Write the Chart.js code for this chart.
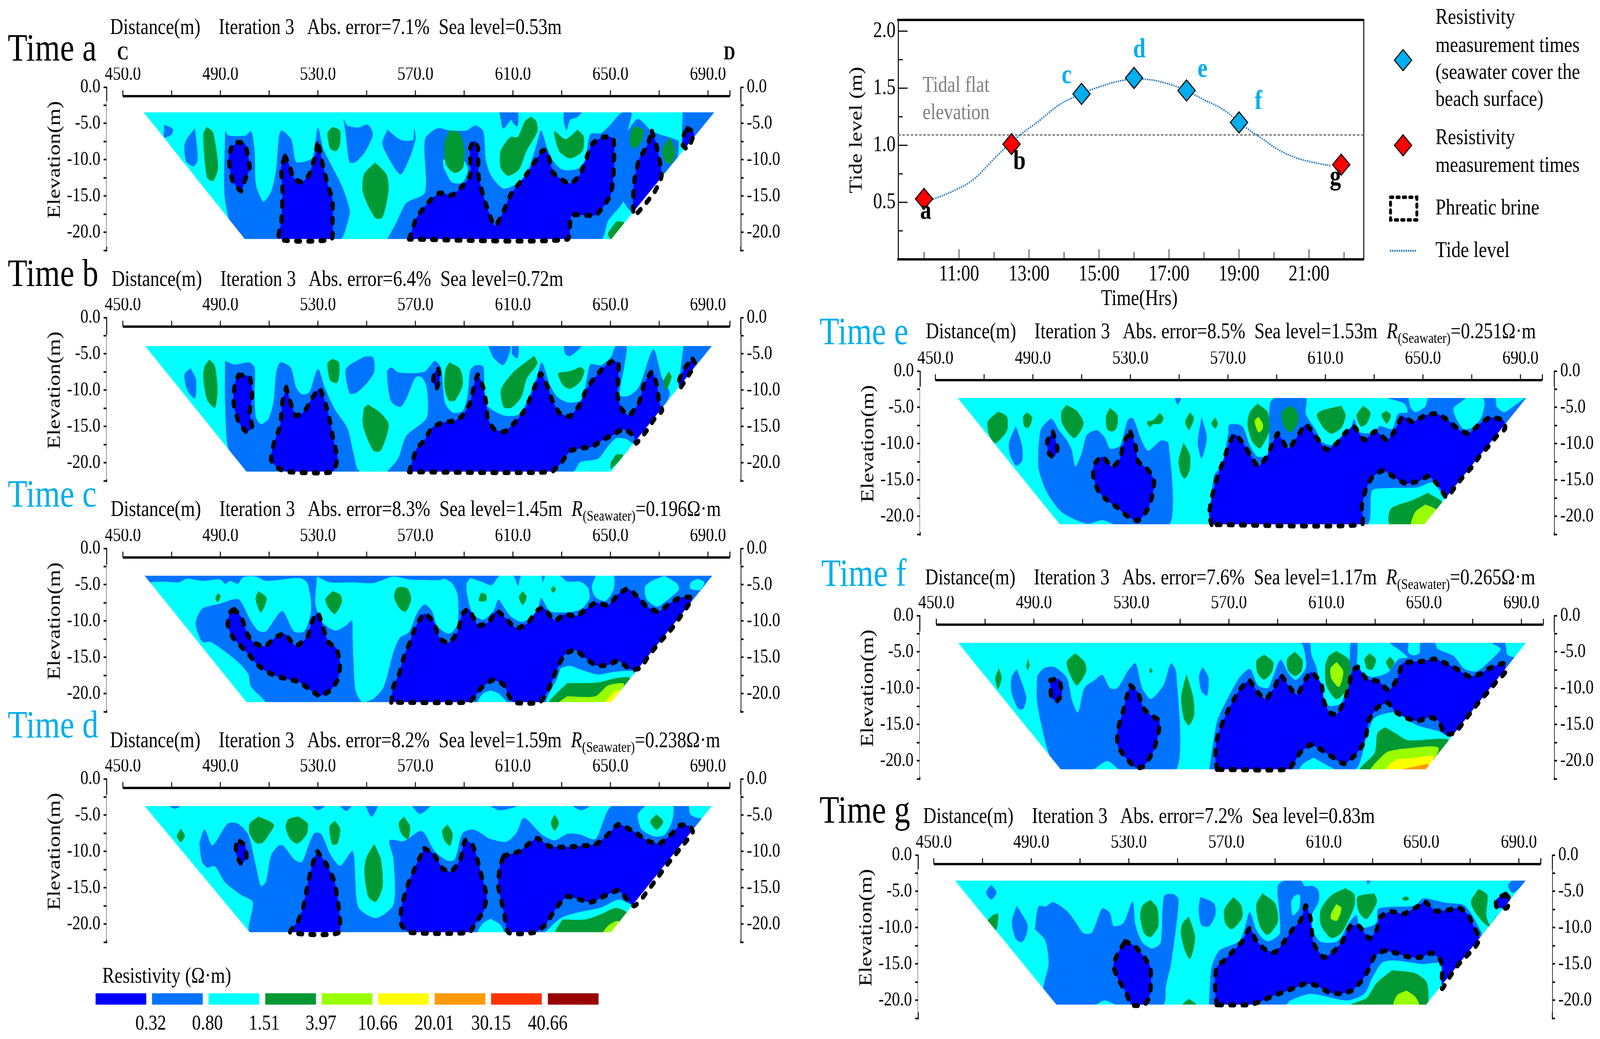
<!DOCTYPE html>
<html>
<head>
<meta charset="utf-8">
<title>Resistivity sections</title>
<script src="https://cdn.jsdelivr.net/npm/chart.js@4"></script>
<style>
html, body { margin: 0; padding: 0; background: #fff; overflow: hidden; }
#page { position: relative; width: 4988px; height: 2660px; overflow: hidden; font-family: "Liberation Serif", serif; color: #000; transform-origin: 0 0; }
#page canvas { position: absolute; }
.t { position: absolute; line-height: 1; white-space: pre; }
.t sub { font-size: 38px; vertical-align: -12px; line-height: 0; }
</style>
</head>
<body>
<div id="page"></div>
<script>
// axis values
const distanceLabels = [450, 490, 530, 570, 610, 650, 690];
const distanceTicks = [450, 470, 490, 510, 530, 550, 570, 590, 610, 630, 650, 670, 690, 699];
const elevationTicks = [0, -2.5, -5, -7.5, -10, -12.5, -15, -17.5, -20, -22.5];
const elevationLabels = [0, -5, -10, -15, -20];

// resistivity legend
const resistivityColors = ['#0000ff', '#0073ff', '#00ffff', '#009933', '#99ff00', '#ffff00', '#ff9900', '#ff3300', '#990000'];
const resistivityValues = ['0.32', '0.80', '1.51', '3.97', '10.66', '20.01', '30.15', '40.66'];

// tide curve
const tideHours = [10.2, 10.84, 11.41, 12.06, 12.7, 13.27, 13.84, 14.34, 14.99, 15.7, 16.27, 16.84, 17.41, 17.99, 18.56, 19.13, 19.7, 20.13, 20.63, 21.13, 21.63];
const tideLevels = [0.52, 0.6, 0.7, 0.9, 1.08, 1.21, 1.35, 1.43, 1.51, 1.57, 1.58, 1.55, 1.49, 1.4, 1.31, 1.17, 1.05, 0.96, 0.89, 0.85, 0.82];
const measureHours = [10, 12.5, 14.5, 16, 17.5, 19, 21.92];
const measureLevels = [0.53, 1.01, 1.45, 1.59, 1.48, 1.2, 0.83];
const measureFlooded = [false, false, true, true, true, true, false];
const tidalFlatLevel = 1.09;
const tideHourTicks = [10, 11, 12, 13, 14, 15, 16, 17, 18, 19, 20, 21, 22];
const tideHourLabels = [11, 13, 15, 17, 19, 21];
const tideLevelLabels = [0.5, 1, 1.5, 2];
const tideLevelMinor = [0.25, 0.75, 1.25, 1.75];

// contour regions, flat lists of distance(m), elevation(m)
// Time a
const trapA = [458.4,-3.45, 692.7,-3.45, 650.4,-20.95, 500,-20.95];
const midA = [
  [467,-5.2, 470.5,-5.8, 470,-6.5, 467,-6.9],
  [479.5,-5.7, 480.5,-8.8, 480.5,-10.2, 479,-10.9, 476,-10.2, 475.5,-7.7],
  [492,-6.1, 493.4,-6.7, 500.3,-6.7, 502.6,-6.1, 504,-8.8, 504.5,-13.4, 507.6,-15.8, 511,-14.3, 513,-11.1, 514,-7, 515,-6, 519,-7.2, 521,-10.3, 525.5,-10.2, 528,-9.7, 530,-5.6, 532,-8.4, 536,-11.1, 540,-13.8, 543,-17, 542,-18.8, 539,-21, 498,-21, 492,-15.6],
  [540.5,-4.4, 542,-5.3, 546.5,-5.6, 550.5,-5.2, 552.5,-6.5, 549.5,-8.8, 545.5,-10.3, 543,-10.3, 541.5,-6.5],
  [558.5,-5.9, 564,-7.3, 569,-7.3, 569.5,-5.8, 570,-7.1, 568,-9.4, 564,-12, 560.5,-10.6, 556.5,-7.8],
  [558.4,-21, 562,-18.8, 566.3,-16, 574,-14.5, 574,-7.2, 579,-5.7, 584,-6, 591,-6, 594.6,-5.3, 597.8,-6.1, 598.8,-10, 601,-12.2, 606,-14, 611.4,-13.4, 615.6,-12, 619.8,-7.9, 621.5,-6, 624,-8.4, 626.5,-10.2, 630.3,-11.4, 636.5,-11.3, 639.7,-10, 641.8,-6.5, 646,-6.4, 650,-5.2, 654.4,-3.6, 658.6,-3.6, 657,-6.1, 656.5,-11.1, 655.4,-15.6, 649,-18.4, 646,-21],
  [657,-6.1, 661.3,-4.4, 667,-6.1, 676.4,-7.2, 678,-7.5, 676.8,-10.6, 671,-12.2, 661.7,-17.7, 655.4,-15.6],
  [604.5,-3.45, 608.9,-3.45, 609.3,-4.3, 606,-5.7, 605,-4.3],
  [609.3,-3.45, 612,-3.45, 611.8,-5.4, 609.3,-4.5],
  [630.9,-3.45, 638,-3.45, 636.5,-4.1, 633.4,-4.5, 632,-5.9, 630.9,-4.7],
  [679.7,-3.45, 692.7,-3.45, 681.6,-8.6, 679.5,-8.4]
];
const holeA = [[581.6,-11.1, 585,-13.1, 589.4,-13.1, 591.5,-11.3, 589.4,-10, 581.6,-10]];
const greenA = [
  [484.5,-5.5, 487,-6.3, 489,-11.1, 487,-12.9, 484.5,-12.4, 483,-6.5],
  [536,-5.5, 539,-6, 539,-7.9, 537.5,-8.8, 535,-8.4, 534,-6.3],
  [553.5,-10.4, 558,-12, 559,-14, 556.5,-17.9, 553.5,-18, 548.5,-14.5, 549,-12],
  [584,-6, 588,-6.3, 590,-8.4, 589.5,-11.1, 586,-11.8, 582.5,-10.6, 582,-7.7],
  [617.5,-4.1, 619.5,-4.7, 620,-6.1, 615.5,-8.8, 612.5,-11.3, 608,-12.2, 605,-11.1, 605,-8.8, 609,-6.9, 612,-6.9, 615,-4.7],
  [636.5,-5.9, 639,-6.8, 638.5,-8.8, 633.5,-9.8, 629,-8.8, 627,-6.1, 631.5,-7.2],
  [660,-5.4, 663.5,-5.9, 663,-7.2, 660,-8.5, 658,-7.7, 658.5,-6.1],
  [674.5,-6.9, 676.5,-8.8, 675,-10.6, 672,-10, 671.5,-8.4],
  [652.5,-18.5, 655.5,-18.7, 650.5,-21, 649,-20.2]
];
const brineA = [
  [497,-7.6, 500,-7.8, 502,-11.1, 500,-12.9, 498.5,-14.3, 495,-12.9, 493.5,-10, 494.5,-8.4],
  [516.5,-9.5, 518.5,-10.9, 520,-12.5, 523.5,-13.1, 526.5,-12, 529,-9.3, 530,-7.4, 531.5,-10, 534,-13.4, 536,-15.6, 536,-18.6, 535.5,-20.95, 514,-20.95, 515,-18.6, 515.5,-14.5, 515,-11.1],
  [567.4,-20.95, 570.5,-18, 575.8,-15.7, 580,-14.6, 585,-14.9, 589.4,-13.6, 592.5,-12.2, 592.5,-8.4, 594.2,-7.4, 595.7,-8.4, 596,-12.5, 598.8,-16, 602.6,-19.1, 606,-17.2, 609.3,-14.7, 615.6,-12, 622,-8.8, 624,-8.8, 626.5,-11.8, 633.4,-13.3, 637.6,-12, 642.4,-7.9, 647,-6.9, 651.2,-7.1, 651.2,-12.2, 650,-14.9, 644,-17.6, 634,-17.7, 632.4,-20.95],
  [667,-6.1, 668.8,-7.9, 671,-12.2, 668,-14.5, 663,-16.6, 659.6,-17.7, 659.6,-13.4, 661.7,-10, 665,-8.1],
  [681.6,-5.7, 684.3,-6.3, 681.6,-8.5, 679.5,-7.9, 680.2,-6.5]
];

// Time b
const trapB = [459,-3.9, 691.7,-3.9, 650.2,-21.25, 500.7,-21.25];
const midB = [
  [477.7,-7, 480,-8.6, 479.5,-11.1, 476.5,-10, 475.3,-7.9],
  [492,-6, 495.7,-6.5, 501.8,-6.2, 504,-6.9, 504,-10.6, 504.5,-13.7, 506.6,-14.7, 509.7,-14, 511.8,-11.7, 513,-7.5, 514.6,-6.2, 518.8,-6.9, 521,-9.6, 523.5,-10.6, 526.5,-10.3, 530,-7.1, 532.7,-9.6, 537,-12.7, 542,-15.2, 544,-17.9, 546,-20.8, 547,-21.25, 500.7,-21.25, 493.4,-18.1, 492,-11.7],
  [549,-5.4, 552.6,-5.5, 553,-7.5, 549.6,-9.2, 545.4,-10.4, 543,-10.4, 541.6,-7.1],
  [558.4,-21.25, 563,-19.4, 566.3,-16.3, 574.7,-13.8, 574.7,-9.6, 572.6,-8.2, 570,-8.2, 566.3,-11.1, 563.8,-12.3, 560,-11.5, 558.4,-7.5, 560,-6.9, 563.2,-7.6, 573.7,-7.5, 577.9,-6, 580.4,-6.9, 582,-11.7, 585.2,-13.1, 589.4,-12.9, 591.5,-10.7, 592.5,-7.3, 594.6,-6.6, 597.8,-6.8, 598.8,-11.9, 606.2,-13.5, 612.4,-13.4, 615.6,-11.7, 619.8,-8.2, 621.9,-6.2, 625,-9.2, 628,-10.9, 632.4,-11.7, 637.6,-11.5, 639.7,-9.6, 641.8,-6.5, 646,-6.6, 650.2,-5.5, 652.3,-3.9, 656.5,-3.9, 655.4,-7.1, 653.7,-10.7, 657.5,-10.8, 661.7,-9.6, 667.6,-4.4, 671,-8.2, 674.3,-10.4, 672.2,-12.1, 665,-15.8, 659.6,-17.3, 656.5,-16.7, 652.3,-16.6, 649,-17.7, 645,-19.4, 637.6,-19.9, 634.5,-21.25],
  [600,-3.9, 608.9,-3.9, 606.2,-6.5, 602,-5.5],
  [609.7,-3.9, 612.2,-3.9, 611.8,-5.6, 609.7,-5],
  [630.9,-3.9, 638,-3.9, 636.9,-4.4, 633.4,-5.3, 631.5,-5],
  [680,-3.9, 691.7,-3.9, 679.5,-9.2, 678.4,-9]
];
const greenB = [
  [485.6,-5.8, 487.7,-6.7, 488.8,-10, 487.7,-12.4, 484.6,-11.3, 483,-8.2, 483.6,-6.7],
  [536,-5.7, 538.6,-6.2, 538.6,-8.2, 537.7,-9, 535,-8.6, 534,-6.3],
  [550.6,-12, 555.8,-13.2, 559,-14.8, 555.8,-18.3, 552.7,-18.3, 548.5,-14.8, 549,-12.5],
  [584,-6.2, 588.3,-7.1, 589.4,-9.2, 586.2,-11.4, 583.7,-11.4, 582,-9.6, 582.4,-7.1],
  [618.7,-5.3, 620,-6.3, 615.6,-8.4, 613.5,-10.9, 609.3,-12.4, 606.2,-12.3, 605,-10.2, 606.2,-9.2, 610.3,-7.5],
  [637.6,-6.8, 639.3,-7.3, 637.6,-8.8, 633.4,-9.8, 630.3,-9.2, 628.6,-7.7, 632,-7.5, 634.5,-7.3],
  [673.9,-7.4, 675,-8.2, 672.8,-10, 671.8,-8.8],
  [652.5,-18.8, 655.2,-19, 650.2,-20.8, 650.2,-20]
];
const brineB = [
  [497.5,-7.9, 502,-8.2, 503,-10.7, 502,-13.1, 503,-15.2, 500.6,-15.7, 497.5,-14.4, 495.4,-11.7, 496,-9],
  [517,-9.6, 518.8,-11.7, 521,-13.5, 524.5,-12.9, 527.6,-11.1, 530.7,-9.8, 533.5,-12.3, 535,-14.4, 536.4,-16.9, 538,-19.4, 536,-21.25, 518,-21.25, 514,-20.8, 510.8,-19.6, 511.8,-17.5, 514.6,-14.8, 515.4,-11.7],
  [579.4,-7.1, 580,-8.2, 578.6,-9.8, 577.3,-8.6, 578,-7.5],
  [567.4,-21.25, 570.5,-18.1, 573.7,-16.9, 576.8,-15.2, 581,-14.5, 586.2,-14.2, 589.4,-13.5, 592.5,-11.7, 594.2,-9.2, 595.6,-7.9, 597.8,-9.6, 599,-11.7, 599.7,-13.9, 602.4,-15.4, 606.7,-15.7, 611.4,-14.2, 614.5,-12.9, 616.6,-11.5, 619.3,-9.2, 621.4,-7.7, 624,-9.4, 626.5,-11.7, 629.3,-13.2, 633.4,-13.6, 637.6,-11.9, 639.7,-10.2, 642.8,-8.6, 646.6,-7.1, 650.8,-6, 653.3,-6.3, 652.9,-10.7, 654.4,-12.5, 657.5,-13.5, 661.7,-11.7, 663.8,-9.2, 667,-7.5, 669,-9.2, 670,-11.7, 671.2,-12.8, 668.4,-13.8, 664.8,-15.6, 660.6,-17.3, 659.6,-16.3, 655.4,-15.4, 650.8,-16.2, 646.6,-16.9, 642.4,-17.8, 637.6,-18, 633.4,-18.4, 629.8,-20, 625.6,-21.25],
  [683.7,-5.7, 684.7,-6.4, 681.6,-8.2, 678.5,-9.7, 678,-8.8, 680.6,-6.9]
];

// Time c
const trapC = [458.8,-3.74, 691.9,-3.74, 650.4,-21.2, 500.7,-21.2];
const holeC = [
  [460.5,-4.7, 466.8,-4.6, 473,-4.7, 476.2,-4.2, 482.5,-4.5, 489.8,-4.3, 492,-4.9, 494,-4.5, 497.2,-4.9, 499.3,-4, 504.5,-3.9, 508.7,-4.5, 522.3,-4.1, 525.5,-4.7, 527,-7, 527,-9, 524.4,-11.4, 520.2,-11.4, 515.3,-8.6, 508.7,-11.4, 505.5,-11.3, 502.4,-9.9, 497.5,-7, 489.8,-7.6, 482.5,-8.3, 479.8,-10.3, 482.5,-12.9, 486,-12.9, 496,-15.3, 501.4,-17.3, 502.4,-19, 508.3,-21.2, 500.4,-21.2, 455,-6],
  [529.7,-3.9, 534.9,-4.7, 544.3,-4.7, 552.7,-4.8, 561,-3.9, 567.4,-4.3, 580,-4.4, 582,-4.2, 585.2,-4.9, 587.3,-6.5, 587.3,-10.3, 585.2,-11.5, 583.1,-11.7, 579,-10.7, 576.8,-8.6, 573.7,-7.7, 570.5,-9, 567.4,-11.5, 563.6,-12.3, 561,-14.2, 556.9,-19.1, 552.7,-20.7, 548,-21.1, 545.4,-19.4, 544.3,-12.2, 544,-9.9, 541.2,-10.7, 537,-11.3, 531.7,-10.1, 529,-7.6],
  [592.5,-4.1, 597.8,-4.7, 601.3,-5.1, 604.7,-3.74, 610,-3.74, 612.1,-5.2, 613.5,-3.74, 621.5,-3.74, 622.3,-4.7, 623.5,-3.74, 629.2,-3.8, 632.3,-4.6, 637.6,-4.6, 640.7,-5.4, 641.4,-6.8, 638.6,-8.2, 634.5,-8.7, 629.2,-8.8, 625,-8.6, 621.5,-6.8, 619.8,-8.8, 613.9,-10.1, 609.3,-9.4, 606.2,-8, 604,-7, 602,-8.6, 597.8,-9.8, 593.6,-9, 591.5,-6.8, 591,-4.9],
  [644.1,-3.74, 651.2,-3.74, 651.2,-5.7, 648,-7.2, 643.9,-6.7, 642.4,-5.3],
  [672.2,-3.8, 677.4,-4.9, 678,-5.7, 672.2,-7.4, 669,-8, 664.9,-7, 664.2,-5.3, 667,-4.5],
  [685.8,-4.2, 688.5,-4.7, 686.8,-5.7, 682.7,-5.5, 683,-4.7],
  [629.6,-16.5, 633.4,-16.2, 637.6,-16.7, 644.9,-17.4, 652.3,-17, 659.6,-17.1, 650.2,-21.2, 624,-21.2, 628.2,-17.9],
  [600.9,-19.6, 604,-20, 607.2,-21.2, 595.7,-21.2, 597.8,-20]
];
const greenC = [
  [489,-6.2, 490,-6.5, 489,-7.4, 488,-6.9],
  [505.5,-5.9, 508.7,-6.7, 508.7,-7.4, 506.6,-8.8, 504.5,-7],
  [536,-5.9, 539.2,-6.4, 539.8,-7.4, 537,-9, 534.4,-8.2, 533.1,-7],
  [564.4,-5.3, 566.9,-5.6, 568.2,-7, 566,-8.7, 563.4,-8.2, 561.3,-6.7, 562.3,-5.5],
  [597,-6.1, 599,-6.4, 599,-7.2, 596,-7.2],
  [614,-5.9, 615.6,-6.7, 614,-7.8, 612.5,-6.7],
  [626.7,-5.2, 627.6,-5.6, 626.5,-6.1, 625.7,-5.6],
  [632.3,-18.6, 644.9,-18.5, 652.3,-17.9, 658,-17.9, 650.2,-21.2, 625,-21.2, 628.2,-19.9]
];
const limeC = [[632.3,-20.4, 643.8,-20.4, 649,-18.9, 655.6,-18.7, 650.2,-21.2, 629.2,-21.2]];
const yellowC = [[649,-20.7, 652.3,-19.6, 653.7,-19.6, 650.2,-21.2, 648,-21.2]];
const brineC = [
  [495.7,-8.4, 498.6,-9.5, 500.9,-11.7, 503.4,-12.9, 508,-13.5, 512.9,-12.2, 516.4,-11.8, 520.8,-13.4, 525.5,-12.3, 527.6,-10.1, 530,-8.9, 532.2,-11, 534.3,-12.9, 537.6,-13.8, 539.1,-15.9, 538,-18.2, 534.9,-19.6, 530.7,-20.3, 526.5,-19.4, 522.3,-18.4, 515,-17.8, 509.7,-17.1, 505.5,-16.1, 502.4,-14.9, 498.2,-13.4, 495,-12.2, 493,-10.5, 494,-8.8],
  [560.1,-21.2, 561,-19, 563.2,-17.4, 565.3,-14.9, 567.4,-13.2, 569.5,-11.3, 571.6,-9.9, 573.7,-9, 577.4,-10.1, 580,-12.4, 583.7,-13, 587.3,-11.5, 589.4,-9, 591.9,-8.4, 595.7,-10.6, 599.9,-10.2, 603.4,-8.6, 607.2,-9.7, 611.4,-11, 616,-10.3, 619.8,-8.6, 622.5,-8.2, 627.1,-9.9, 631.3,-9.1, 636.1,-9.3, 640.7,-8.2, 643.9,-7.5, 649.1,-7.8, 653.3,-6.3, 657.1,-5.6, 661.7,-6.8, 664.8,-8, 669.7,-8.7, 674.3,-7.6, 678.5,-6.8, 683.5,-6.8, 681.6,-8, 678.5,-9.5, 675.3,-11, 672.2,-12.2, 669,-13.4, 665.5,-14.9, 662.1,-16.5, 657.9,-16.6, 653.3,-15.5, 648.5,-16.1, 643.9,-16.1, 639.7,-15.1, 635.5,-14, 631.3,-14.6, 628.2,-16.5, 626.1,-18.2, 624,-19.8, 620.9,-21.2, 610.3,-21.2, 608.2,-20.2, 606.2,-18.8, 602,-18.1, 597.1,-19.2, 593.6,-20.7, 591.5,-21.2]
];

// Time d
const trapD = [458.8,-3.72, 691.7,-3.72, 650.2,-21.15, 502,-21.15];
const midD = [
  [468.9,-3.72, 473.5,-3.72, 471.4,-4.1],
  [527.6,-3.72, 532.8,-3.72, 530,-4.3],
  [539,-3.72, 543.7,-3.72, 541.6,-4.4],
  [549.6,-3.72, 554.4,-3.72, 552,-5.2],
  [568.6,-3.72, 576,-3.72, 571.8,-4.8],
  [600.5,-3.72, 611.8,-3.72, 604.7,-4.3],
  [634.3,-3.72, 641.5,-3.72, 638,-4.3],
  [481.4,-8.9, 483.5,-7, 486.7,-9.2, 493,-6.2, 497.2,-6.2, 501.4,-7.7, 504.5,-12, 506.6,-14.8, 508.7,-14.2, 510.8,-10.6, 513.9,-9.2, 516,-9.3, 520.2,-11.1, 523.4,-11.5, 526.5,-8.9, 528.6,-7.5, 531.3,-7.6, 534.9,-10.3, 539.1,-12, 544.3,-10, 546.4,-17.6, 553.8,-19.2, 561.1,-17.3, 561.1,-11.1, 559.4,-8.5, 565.3,-8.6, 572.6,-7.2, 577.9,-10, 583.1,-11.3, 586.2,-11.1, 589.4,-7.5, 593.6,-7, 597.8,-7.7, 599.9,-8.2, 607.2,-8.7, 611.4,-7.5, 614.5,-5.4, 621.9,-7.7, 627.1,-8.5, 632.3,-7.6, 637.6,-7.7, 643.9,-8.3, 650.8,-3.72, 691.7,-3.72, 659.8,-17.2, 653.5,-16.6, 646.1,-17.7, 637.7,-18.3, 630.4,-19, 626.2,-20.1, 622.5,-21.15, 502.4,-21.15, 503.4,-17, 498.2,-15.9, 491.9,-14.2, 487.7,-12, 484.6,-12.2, 482.5,-11.4]
];
const holeD = [
  [664.4,-3.72, 675.5,-3.72, 675.3,-5.8, 672.2,-7.7, 668,-7.9, 662.7,-6.9, 661.3,-4.9],
  [682.3,-3.72, 691.1,-3.72, 687.9,-5.4, 682.8,-4.9],
  [600.9,-19.3, 604.7,-20.1, 606.2,-21.15, 595.7,-21.15, 597.8,-19.9]
];
const greenD = [
  [473.7,-6.9, 475.4,-7.8, 473.7,-8.7, 472.2,-7.9],
  [505.6,-5.2, 511.9,-6.3, 509.8,-7.7, 507.2,-8.8, 504.5,-8.8, 502,-7.5, 502,-6.2],
  [522,-5.2, 525.8,-6.2, 525.2,-7.7, 521.6,-8.9, 518.5,-8.2, 516.8,-6.6, 517.9,-5.6],
  [537,-5.8, 539.1,-6.9, 538,-8.9, 535.9,-9, 534.9,-7.5, 534.9,-6.5],
  [553.1,-9, 555.8,-11.1, 556.5,-14.8, 553.8,-16.9, 550.7,-16.2, 549.1,-12.8, 550,-10.8],
  [565.3,-5.2, 567.8,-6.6, 566.9,-8.3, 564.2,-7.5, 563.2,-6.1],
  [583.1,-6.3, 585.2,-7.5, 584.2,-9.2, 582,-8.5, 581,-7.2],
  [627.1,-4.9, 628.8,-6.1, 627.1,-7.1, 625.6,-6.1],
  [668.9,-4.9, 671.6,-5.9, 668.9,-7, 666.4,-5.9],
  [630.3,-19.4, 639.7,-19.4, 646,-18.7, 652.3,-17.8, 657,-18.6, 650.2,-21.15, 627.6,-21.15]
];
const limeD = [[652.3,-19.6, 653.7,-19.7, 650.2,-21.15, 647.1,-21.15, 649.2,-20.2]];
const brineD = [
  [498,-8.6, 500.1,-9.2, 500.7,-10.8, 498.6,-11.7, 496.5,-10.3, 496.5,-8.9],
  [529.8,-10, 533.4,-11.7, 536.5,-13.9, 538.2,-16.8, 538.6,-21.15, 518.7,-21.15, 521.8,-19.6, 523.9,-17.8, 526,-14.2, 528.1,-11.4],
  [573.7,-9.6, 577.4,-10.3, 581,-12.3, 584.6,-12.8, 588.4,-11.1, 590.4,-8.5, 593.6,-9.2, 596.7,-12.8, 599.2,-16.2, 597.8,-18.3, 594.6,-19.9, 592,-21.15, 567.8,-21.15, 564.2,-20.1, 564.2,-17.8, 567,-14.5, 571,-11.4],
  [606.2,-10.6, 612.5,-10, 619.8,-8.2, 625,-9.3, 630.3,-9.4, 636.6,-9.3, 643.9,-9, 648,-8, 653.3,-6.3, 660.7,-7.5, 664.9,-8.5, 670.2,-8.9, 675.4,-7.5, 678.5,-6.4, 682.3,-6.5, 683.8,-7.3, 679.6,-9.2, 673.3,-11.8, 666,-15.1, 659.7,-17.5, 653.3,-15.4, 646.6,-16.3, 641.8,-17, 632.4,-16.2, 628.2,-17.6, 623,-20.2, 618.7,-21.15, 608.2,-21.15, 606.2,-18.2, 604,-14.8, 604.7,-12]
];

// Time e
const trapE = [459,-3.68, 692.5,-3.68, 650.6,-21.14, 501,-21.14];
const midE = [
  [483,-7.6, 485.5,-10.3, 485.5,-12.4, 483,-13, 480.5,-11.3, 480.3,-9.8],
  [492.4,-10.3, 493.4,-8, 497.6,-6.6, 500.7,-8.2, 503.8,-9.5, 505.9,-10.9, 507.4,-13.2, 510.1,-11.3, 512.2,-8.8, 516.4,-8.2, 519.5,-9.2, 521.6,-10.7, 525.8,-10.3, 528.9,-6.8, 531,-6.5, 534.1,-9.2, 537.2,-11, 542.5,-9.6, 545.6,-10, 546,-21.14, 523.7,-21.14, 518.5,-20.5, 512.2,-21, 501.8,-19.4, 495.5,-16.5, 492.4,-13.4],
  [548.3,-3.68, 550.8,-3.68, 549.3,-4.6],
  [559.2,-6.4, 561.3,-9.2, 559.2,-12, 557.7,-9.9],
  [562.3,-21.14, 564.4,-14.4, 567.5,-13, 570.2,-8.6, 570.6,-7.4, 575.8,-7.6, 579,-10.3, 582.1,-11.8, 586.3,-11.5, 587.3,-4.5, 589.4,-3.68, 601.9,-3.68, 601.9,-5.9, 606.1,-8.2, 608.2,-9.7, 612.4,-10.2, 616.5,-9, 620.7,-7.6, 621.8,-6.6, 623.8,-8.4, 630.1,-8.5, 632.2,-7.6, 637.4,-8, 639.9,-5.9, 643.7,-5.7, 642.6,-4.5, 635.7,-3.68, 643.7,-3.68, 644.7,-4.9, 646.8,-5.7, 651,-4.9, 652.4,-3.68, 667.3,-3.68, 662.5,-5.1, 663.5,-6.5, 666.6,-8, 670.4,-7.8, 673.9,-6.5, 675.4,-4.5, 675,-3.68, 679.6,-3.68, 680.2,-4.9, 683.3,-5.7, 687.1,-4.9, 692.5,-3.68, 679.2,-9.7, 664.5,-15.5, 659.3,-17.3, 654,-15.3, 647.8,-16, 635.3,-16.1, 629,-16.5, 627,-21.14]
];
const greenE = [
  [475.7,-5.6, 479.3,-6.3, 479.3,-8.2, 474.6,-9.9, 472.1,-8.8, 471.5,-7],
  [487.6,-5.7, 489.7,-6.4, 488.2,-7.8, 486.5,-7.6, 486,-6.3],
  [503.8,-4.7, 508,-5.5, 510.7,-7, 510,-8, 507,-9.2, 503.8,-8.2, 501.8,-7, 501.8,-5.6],
  [521.6,-5.1, 524.7,-6.1, 524.3,-7.8, 522.6,-8.3, 520.5,-8, 520,-6.3],
  [542,-5.8, 543.5,-6.4, 542.5,-7.2, 539.3,-7.3, 537.9,-7.7, 536.8,-7, 539.3,-6.8],
  [554.4,-5.7, 556,-6.5, 554,-8.1, 552.5,-7],
  [564.8,-6.4, 565.8,-7.2, 564.8,-7.9, 563.3,-7.2],
  [551.8,-9.9, 554.3,-11.5, 554.3,-13.6, 552.3,-14.8, 550.8,-14.2, 549.8,-12.4],
  [582.1,-4.5, 586.3,-5.7, 586.9,-8.2, 583.2,-10.6, 580,-9.7, 578.1,-7.4, 579,-5.7],
  [595.3,-4.8, 598.2,-5.5, 598.8,-7, 595.7,-8.4, 593,-7.6, 592.1,-5.7],
  [616.5,-4.8, 618.2,-6.1, 616.5,-7.8, 612.4,-8.6, 609.2,-7.8, 606.5,-6.1, 608.2,-5.5],
  [625.5,-4.8, 628.4,-5.7, 627,-7.2, 624.5,-7.6, 622.8,-6.1],
  [635,-5.5, 636.8,-6.1, 635.3,-7.2, 633.2,-6.3, 633.2,-5.9],
  [652,-16.8, 657.9,-18.2, 650.6,-21.14, 636.4,-21.14, 636.8,-19, 645.8,-17.8]
];
const limeE = [
  [582.5,-6.3, 584.2,-7.2, 584.2,-8, 582.5,-8.4, 581,-6.9],
  [651,-18.4, 655.6,-19.2, 650.6,-21.14, 645.2,-21.14, 646.9,-19.4]
];
const brineE = [
  [498.2,-8.4, 500.1,-10.7, 498.6,-11.8, 496.5,-11.3, 495.9,-9.7],
  [530,-8.4, 532.1,-10.3, 533.1,-12.4, 537.2,-13.6, 539.7,-15.1, 538.9,-17.3, 537.2,-19, 533.1,-20.6, 528.9,-20, 524.7,-18.8, 520.5,-17.8, 516.8,-16.5, 514.7,-14.4, 515.3,-12.8, 518.5,-11.8, 522.6,-13.2, 525.8,-12, 527.2,-9.9],
  [563.3,-21.14, 562.3,-19.8, 563.3,-17.6, 564.8,-15.5, 566.5,-13.8, 568.1,-12.4, 570.2,-10.3, 572.7,-8.7, 576.5,-10.1, 579,-11.5, 582.5,-13.1, 586.3,-11.6, 588.4,-9.9, 590.5,-8.6, 594.6,-10.7, 597.8,-9.4, 601.9,-7.4, 606.5,-9.2, 610.3,-10.8, 614.5,-10, 618.2,-8.5, 621.8,-7.7, 625.9,-9.5, 630.5,-8.3, 635.3,-9.5, 638.5,-8.2, 641.6,-6.3, 645.8,-7, 651,-6.1, 655.6,-5.9, 660.4,-6.8, 664.5,-8, 668.7,-8.6, 672.9,-7.4, 677.5,-6.4, 682.9,-6.8, 683.7,-7.9, 680.2,-9, 677.1,-10.3, 673.5,-11.6, 670.4,-13.1, 666.6,-14.5, 662.9,-16.1, 659.7,-17.4, 656.2,-15.7, 652.4,-14.5, 647.8,-15.2, 643,-15.5, 638.5,-14.7, 633.9,-13.7, 629.5,-14.5, 626.6,-16.3, 624.9,-18.6, 624.9,-21.14]
];

// Time f
const trapF = [458.8,-3.72, 692,-3.72, 650.8,-21.2, 501,-21.2];
const midF = [
  [483,-7.4, 486.8,-11.2, 485.7,-12.8, 483.6,-12.8, 480.9,-10.6, 480.9,-8.5],
  [491.4,-8.3, 494,-7.3, 498.3,-7.1, 503.5,-8.6, 505.6,-11.7, 508.1,-13.4, 510.8,-10, 515,-8.9, 518.1,-8.2, 521.2,-10, 524.4,-10, 528.5,-7.7, 531.7,-6.6, 534.4,-10, 538,-11.5, 543.2,-9.6, 546.3,-6.6, 548.4,-7.9, 548.4,-21.2, 525.4,-21.2, 520.2,-20, 513.9,-21.2, 501,-21.2, 496.2,-19, 491.4,-12],
  [559.3,-7.1, 561.6,-8.6, 561,-11, 558.8,-10.4, 557.8,-8.3],
  [562,-21.2, 565.1,-14.7, 568.2,-12.3, 574.5,-8.5, 578.7,-7.4, 581.8,-9.6, 586,-10, 588.1,-8.5, 591.2,-6.1, 594.3,-7.9, 597.5,-8.9, 601.7,-7.1, 600.6,-4.2, 599.6,-3.72, 603.1,-3.72, 603.8,-5.4, 605.8,-7.1, 609,-12, 612.1,-12.5, 616.3,-12, 619.4,-7.9, 620,-3.8, 622.6,-3.72, 622.6,-7.9, 625.7,-8.1, 628.8,-8.5, 635.1,-7.9, 639.7,-6, 643.4,-5.8, 640.3,-4.8, 636.1,-3.72, 643.4,-3.72, 643.4,-5, 645.5,-5.5, 648.2,-5.2, 648.7,-3.72, 654.3,-3.72, 655.6,-4.6, 662.2,-5.6, 666.4,-7.3, 671.6,-7.7, 677.3,-6.2, 681.5,-4.6, 677.9,-3.72, 683.1,-3.72, 684.2,-5.4, 687.3,-5.7, 692,-3.72, 679,-9.6, 661.2,-16.6, 656,-15.9, 646.6,-15, 639.3,-13.3, 629.9,-14, 626.7,-16.2, 621.5,-21.2]
];
const holeF = [[604.8,-19.6, 610,-20.6, 613.1,-21.2, 599.1,-21.2, 600.6,-20.4]];
const greenF = [
  [475.7,-7.3, 476.7,-8.6, 475.3,-10.1, 474.2,-8.6],
  [487.6,-6, 488.2,-6.9, 487.4,-7.5, 487,-6.9],
  [507,-5.2, 510.8,-6.4, 511.4,-7.7, 507.7,-9.6, 505.1,-8.3, 503.5,-6.4],
  [538,-7.2, 538.6,-7.7, 537.7,-7.9, 537.5,-7.5],
  [552.6,-8.1, 555.3,-11.2, 555.7,-13.7, 553.6,-15.1, 551.5,-14.1, 550.5,-11.2],
  [584.5,-5.4, 588.1,-6.4, 587.7,-7.7, 584.5,-8.8, 581.8,-7.9, 581.4,-6.2],
  [597.1,-5, 600.2,-6.2, 599.6,-7.7, 597.1,-8.3, 594.3,-7.5, 593.9,-6],
  [614.2,-4.9, 619.4,-6.2, 619.4,-9.6, 614.2,-11.5, 610,-9.6, 609.6,-6.9, 611,-5.6],
  [627.8,-5.2, 630.3,-6.1, 628.8,-7.4, 626.7,-7.3, 625.7,-6],
  [636.1,-5.7, 637.8,-6.4, 636.1,-7.4, 634.5,-6.4],
  [634,-15.4, 638.2,-16.2, 643.4,-17.2, 660.2,-17.2, 650.8,-21.2, 624,-21.2, 629.9,-18.9, 631,-16.2]
];
const limeF = [
  [614.2,-6.4, 616.9,-7.7, 615.2,-9.8, 612.1,-8.7, 611.7,-7.3],
  [640.3,-18.4, 655.9,-18.2, 650.8,-21.2, 628.4,-21.2, 631.9,-19.7, 635,-18.8]
];
const yellowF = [[639.3,-19.8, 646.6,-19.6, 653.9,-19.4, 650.8,-21.2, 634.7,-21.2, 636.2,-20.4]];
const orangeF = [[646.6,-20.8, 651.9,-20.5, 650.8,-21.2, 641.4,-21.2]];
const brineF = [
  [496.8,-8.9, 500.3,-8.8, 501.4,-10.8, 499.3,-11.8, 497.2,-11.2, 496.8,-10],
  [529.6,-9.6, 532.7,-10.6, 534.8,-12.7, 537.9,-13.7, 541.5,-14.5, 541.1,-16.2, 539,-18.7, 534.8,-20.8, 531.7,-20.9, 527.5,-19.5, 524.4,-17.9, 524.4,-15.8, 526.5,-13.3, 527.9,-11.4],
  [565.1,-21.2, 564.5,-19.3, 565.1,-17, 567.2,-14.95, 569.3,-13.3, 572,-11.6, 574.5,-10.2, 578.3,-8.9, 581.4,-10.4, 585,-11.5, 588.5,-10, 591.2,-8.2, 594.3,-9.6, 597.9,-10.9, 601.2,-8.9, 603.8,-7.8, 607.9,-9.4, 609,-11.8, 611.1,-13.3, 614.2,-13.6, 617.3,-11.8, 619.4,-9.6, 620.5,-7.7, 623,-7.1, 626.3,-8.7, 631.5,-9.1, 635.7,-10.3, 639.3,-8.5, 641.4,-6.6, 649.7,-6.3, 654.3,-6, 659.1,-6.6, 664.3,-7.5, 668.5,-8.4, 672.7,-8.1, 677.3,-7.2, 682.7,-6.6, 683.6,-7.7, 680,-9, 676.9,-10.3, 673.1,-11.7, 669.8,-13.1, 666.4,-14.6, 662.9,-16.1, 658.5,-16.3, 656,-14.5, 652.2,-14, 647.6,-14.5, 642.8,-14.1, 638.6,-13.3, 635.1,-12, 630.9,-12.7, 627.4,-14.4, 626.3,-16.6, 624.6,-18, 621.5,-19.3, 617.3,-20.4, 612.5,-19.5, 607.9,-18.5, 603.8,-17.8, 599.2,-18.9, 596.4,-20.4, 594.4,-21.2]
];

// Time g
const trapG = [458.6,-3.5, 692.9,-3.5, 652,-20.63, 500.3,-20.63];
const midG = [
  [473.6,-4.1, 475.7,-5.2, 473.6,-6.1, 471.5,-5.2],
  [484,-7, 488.4,-9.6, 487.8,-11.1, 486.1,-12, 483.6,-11.5, 482.1,-9.2],
  [491.5,-10.2, 493,-7.1, 496.1,-7.1, 498.8,-6.5, 504.5,-7.7, 507.6,-9, 511.4,-10.8, 514.9,-10.7, 519.1,-7.4, 522.2,-8, 523.7,-9.8, 527.8,-9.4, 531.6,-6.4, 532.6,-9.6, 535.4,-12, 539.5,-12.9, 543.1,-12.1, 544.5,-5.7, 548.3,-5.4, 550.4,-6.2, 547.3,-14.9, 545.2,-18, 544.1,-20.63, 525.3,-20.63, 520.1,-20, 515.9,-20.63, 500.3,-20.63, 495.1,-18.7, 497.2,-14.9, 495.7,-11.7],
  [559.4,-5.8, 565,-6.7, 565.4,-8.3, 562.9,-9.8, 559.8,-9.6, 558.7,-7.5],
  [562.9,-20.63, 564,-15.5, 567.1,-13.2, 575.4,-11.9, 577.5,-10.2, 579.6,-7.9, 582.1,-10.2, 584.8,-11.5, 587.5,-11.9, 592.1,-10.7, 591.1,-4.3, 594.2,-3.5, 600.5,-3.5, 602.1,-4.3, 605.7,-4.3, 607.8,-4.96, 607.8,-6.4, 604.6,-8.6, 605.7,-10.7, 608.8,-12, 615.1,-12, 617.2,-11.3, 620.3,-9.4, 623.4,-8.3, 624.5,-10, 629.7,-9.8, 631.8,-9.2, 632.2,-7.5, 636,-7.2, 647.4,-7, 650.6,-6, 654.7,-6.2, 660,-6.6, 667.3,-6.9, 670.4,-8.1, 674.6,-10.7, 674.6,-11.3, 671.4,-12.8, 661,-17, 657.9,-14.9, 650.6,-15, 639.1,-14.5, 633.9,-14.8, 629.7,-17, 626.6,-19.1, 619.3,-20, 604.6,-19.1, 596.3,-20, 594.2,-20.63],
  [687.1,-3.5, 692.9,-3.5, 687.5,-5.2, 685.6,-4.2],
  [627.6,-3.5, 629.3,-3.5, 628,-4]
];
const holeG = [[598,-5.6, 600,-5.5, 600,-7.3, 597.3,-8.3, 596.7,-6.4]];
const greenG = [
  [474.2,-8.3, 476.3,-8.1, 475.7,-10.2, 473.7,-10.1, 472.1,-9.1],
  [538.9,-6.2, 541.6,-7.3, 542,-9.8, 538.9,-11.3, 536.2,-10.7, 534.7,-8.3, 535.8,-6.9],
  [554.6,-8.5, 557.1,-11.1, 556.6,-12.8, 555,-14.3, 552.9,-13, 551.4,-10.7, 552.1,-9.4],
  [572.9,-5.8, 576,-6.9, 576.5,-8.6, 572.3,-10.2, 569.6,-9.4, 569.2,-7.5],
  [584.8,-5.3, 590,-6.7, 591.1,-9.2, 586.9,-11, 583.8,-9.8, 582.3,-6.9],
  [618.8,-4.6, 622.4,-5.4, 622.4,-7.1, 617.2,-10.7, 613,-11.4, 608.8,-9.6, 608.8,-7.5, 613,-5.6],
  [630.7,-5.3, 631.8,-6.4, 627.6,-8.8, 624.5,-7.9, 623.8,-5.8],
  [643.7,-5.7, 645,-6, 643.3,-6.3, 642.2,-6],
  [673.5,-4.7, 677,-5.5, 676.6,-8.3, 678,-9.6, 680.8,-8.4, 677.7,-9.8, 672.5,-8.1, 670.4,-6.4],
  [554.6,-19.8, 557.7,-20.63, 552.1,-20.63],
  [638,-15.9, 647.4,-16.3, 652.2,-17.6, 652,-20.63, 621.3,-20.63, 627.6,-19.7, 631.8,-17.6]
];
const limeG = [
  [615.1,-6.8, 617.2,-7.3, 615.5,-9, 613,-8.8, 613,-8.1],
  [643.9,-18.7, 647.4,-19.5, 648.9,-20.63, 638.7,-20.63, 640.1,-19.3]
];
const brineG = [
  [528.5,-11.9, 532.6,-12.6, 536.8,-14.3, 538.9,-15.5, 538.9,-18.7, 537.9,-20, 536.2,-20.63, 531.2,-20.63, 528.5,-18.7, 525.8,-17.2, 523.7,-15.3, 525.4,-13.6],
  [566,-20.63, 565.4,-18.1, 566,-15.5, 569.2,-14.5, 572.3,-13.4, 576.5,-11.9, 579.6,-10.1, 582.1,-11.7, 585.9,-13, 590,-13.4, 594.2,-11.7, 597.3,-10.2, 600.5,-9, 602.6,-6.97, 604.6,-8.8, 605.7,-12.1, 609.9,-14.1, 614,-13.3, 617.6,-11.9, 620.9,-9.8, 624.5,-9.8, 628.6,-11.5, 631.8,-10.2, 632.8,-8.6, 637.6,-7.8, 642.8,-8.1, 647.4,-7.3, 651.6,-6.5, 655.8,-7.7, 660.6,-7.6, 665.6,-7.3, 669.3,-8.3, 671.4,-9.8, 673.9,-11.5, 671.8,-12.8, 668.9,-13.8, 665.2,-15.1, 662,-16.6, 658.5,-18.4, 658.5,-16.1, 657.9,-14.5, 654.3,-13.5, 649.5,-14.1, 644.3,-14, 639.7,-13.5, 634.9,-13.2, 630.7,-14, 628.2,-15.9, 625.1,-17.5, 621.3,-18.7, 616.8,-19.1, 612,-18.9, 607.2,-18, 602.6,-17.7, 598,-18.3, 593.2,-18.9, 588.4,-19.5, 583.8,-20.2, 579.2,-20.63],
  [684.6,-5.4, 686.5,-6.2, 685,-7.3, 680.8,-7.1, 680.8,-6.1]
];

const panels = [
  { name: 'Time a', nameColor: '#000', nameX: 24, nameY: 156, headX: 343, headY: 87, error: '7.1', sea: '0.53', seawater: null, left: 332, right: 2309, top: 222.5, x450: 383, base: 2, trap: trapA, mid: midA, hole: holeA, green: greenA, lime: [], yellow: [], orange: [], brine: brineA },
  { name: 'Time b', nameColor: '#000', nameX: 24, nameY: 733, headX: 348, headY: 732, error: '6.4', sea: '0.72', seawater: null, left: 332, right: 2309, top: 813, x450: 383, base: 2, trap: trapB, mid: midB, hole: [], green: greenB, lime: [], yellow: [], orange: [], brine: brineB },
  { name: 'Time c', nameColor: '#00aeef', nameX: 24, nameY: 1298, headX: 345, headY: 1321, error: '8.3', sea: '1.45', seawater: '0.196', left: 332, right: 2309, top: 1404, x450: 383, base: 1, trap: trapC, mid: [], hole: holeC, green: greenC, lime: limeC, yellow: yellowC, orange: [], brine: brineC },
  { name: 'Time d', nameColor: '#00aeef', nameX: 24, nameY: 1889, headX: 343, headY: 1913, error: '8.2', sea: '1.59', seawater: '0.238', left: 332, right: 2309, top: 1994, x450: 383, base: 2, trap: trapD, mid: midD, hole: holeD, green: greenD, lime: limeD, yellow: [], orange: [], brine: brineD },
  { name: 'Time e', nameColor: '#00aeef', nameX: 2555, nameY: 882, headX: 2886, headY: 866, error: '8.5', sea: '1.53', seawater: '0.251', left: 2868, right: 4845, top: 950, x450: 2916, base: 2, trap: trapE, mid: midE, hole: [], green: greenE, lime: limeE, yellow: [], orange: [], brine: brineE },
  { name: 'Time f', nameColor: '#00aeef', nameX: 2560, nameY: 1501, headX: 2884, headY: 1496, error: '7.6', sea: '1.17', seawater: '0.265', left: 2867, right: 4845, top: 1576, x450: 2919, base: 2, trap: trapF, mid: midF, hole: holeF, green: greenF, lime: limeF, yellow: yellowF, orange: orangeF, brine: brineF },
  { name: 'Time g', nameColor: '#000', nameX: 2555, nameY: 2107, headX: 2878, headY: 2107, error: '7.2', sea: '0.83', seawater: null, left: 2862, right: 4839, top: 2189, x450: 2911, base: 2, trap: trapG, mid: midG, hole: holeG, green: greenG, lime: limeG, yellow: [], orange: [], brine: brineG }
];

const page = document.getElementById('page');
// the window can be narrower than the picture, keep all of it in view
page.style.transform = 'scale(' + Math.min(1, window.innerWidth / 4988) + ',' + Math.min(1, window.innerHeight / 2660) + ')';
Chart.defaults.font.family = '"Liberation Serif", serif';
Chart.defaults.color = '#000';

function addText(str, x, baseline, size, extra) {
  const d = document.createElement('div');
  d.className = 't';
  d.style.left = x + 'px';
  d.style.top = (baseline - 0.838 * size) + 'px';
  d.style.fontSize = size + 'px';
  if (extra) Object.assign(d.style, extra);
  d.innerHTML = str;
  page.appendChild(d);
  return d;
}

function addRotated(str, cx, cy, size) {
  const d = addText(str, cx, cy, size);
  d.style.top = cy + 'px';
  d.style.transform = 'translate(-50%, -50%) rotate(-90deg)';
}

function addCanvas(left, top, width, height) {
  const c = document.createElement('canvas');
  c.width = width;
  c.height = height;
  c.style.left = left + 'px';
  c.style.top = top + 'px';
  page.appendChild(c);
  return c;
}

function toPoints(flat, close) {
  const pts = [];
  for (let i = 0; i < flat.length; i += 2) pts.push({ x: flat[i], y: flat[i + 1] });
  if (close) pts.push(pts[0]);
  return pts;
}

function region(flat, color, tension) {
  return {
    data: toPoints(flat, true), showLine: true, fill: 'shape', backgroundColor: color,
    borderColor: color, borderWidth: 1, pointRadius: 0, tension: tension, capBezierPoints: false
  };
}

function stroke(points, color, width, dash) {
  return {
    data: points, showLine: true, fill: false, borderColor: color, borderWidth: width,
    borderDash: dash || [], pointRadius: 0, tension: 0
  };
}

function tickMarks(list, makePair) {
  const pts = [];
  list.forEach(v => {
    const pair = makePair(v);
    pts.push(pair[0], pair[1], { x: pair[1].x, y: null });
  });
  return pts;
}

function sectionChart(p) {
  const padSide = 135, padTop = 50, padBottom = 30, areaH = 430;
  const canvas = addCanvas(p.left - padSide, p.top - padTop, p.right - p.left + 2 * padSide, areaH + padTop + padBottom);
  const pxPerM = 7.6;
  const xMin = 450 - (p.x450 - p.left) / pxPerM;
  const xMax = 450 + (p.right - p.x450) / pxPerM;
  const yTop = p.trap[1], yBot = p.trap[5];

  const datasets = [];
  datasets.push(region(p.trap, resistivityColors[p.base], 0));
  p.mid.forEach(f => datasets.push(region(f, resistivityColors[1], 0.25)));
  p.hole.forEach(f => datasets.push(region(f, resistivityColors[2], 0.25)));
  p.green.forEach(f => datasets.push(region(f, resistivityColors[3], 0.25)));
  p.lime.forEach(f => datasets.push(region(f, resistivityColors[4], 0.25)));
  p.yellow.forEach(f => datasets.push(region(f, resistivityColors[5], 0.25)));
  p.orange.forEach(f => datasets.push(region(f, resistivityColors[6], 0.25)));
  p.brine.forEach(f => datasets.push(region(f, resistivityColors[0], 0.2)));

  // white masks keep the smoothed regions inside the section outline
  datasets.push(region([xMin, yTop, p.trap[0], yTop, p.trap[6], yBot, xMin, yBot], '#fff', 0));
  datasets.push(region([p.trap[2], yTop, xMax, yTop, xMax, yBot, p.trap[4], yBot], '#fff', 0));
  datasets.push(region([xMin, yTop + 1.5, xMax, yTop + 1.5, xMax, yTop, xMin, yTop], '#fff', 0));
  datasets.push(region([xMin, yBot, xMax, yBot, xMax, yBot - 1, xMin, yBot - 1], '#fff', 0));

  // distance rule under the labels
  datasets.push(stroke(toPoints([450, -1.25, 699, -1.25]), '#000', 6));
  datasets.push(stroke(tickMarks(distanceTicks, v => [{ x: v, y: -1.25 }, { x: v, y: -0.45 }]), '#000', 3));

  p.brine.forEach(f => {
    const outline = stroke(toPoints(f, true), '#000', 13, [12, 26]);
    outline.borderCapStyle = 'round';
    outline.tension = 0.2;
    outline.capBezierPoints = false;
    datasets.push(outline);
  });
  datasets.forEach((d, i) => { d.order = datasets.length - i; d.yAxisID = 'y'; d.xAxisID = 'x'; });

  const elevAxis = (pos) => ({
    type: 'linear', position: pos, min: -22.6, max: 0,
    afterBuildTicks: s => { s.ticks = elevationTicks.map(v => ({ value: v })); },
    afterFit: s => { s.width = padSide; },
    grid: { drawOnChartArea: false, drawTicks: true, tickLength: 9, tickWidth: 4, tickColor: '#000' },
    border: { color: '#000', width: 3 },
    ticks: {
      autoSkip: false, padding: 10, color: '#000', font: { size: 50 },
      callback: v => elevationLabels.includes(v) ? v.toFixed(1) : ''
    }
  });

  new Chart(canvas, {
    type: 'scatter',
    data: { datasets: datasets },
    options: {
      responsive: false, animation: false, events: [],
      layout: { padding: { bottom: padBottom } },
      plugins: { legend: { display: false }, tooltip: { enabled: false } },
      scales: {
        x: {
          type: 'linear', position: 'top', min: xMin, max: xMax,
          afterBuildTicks: s => { s.ticks = distanceLabels.map(v => ({ value: v })); },
          afterFit: s => { s.height = padTop; },
          grid: { display: false, drawTicks: false },
          border: { display: false },
          ticks: { autoSkip: false, maxRotation: 0, minRotation: 0, padding: 2, color: '#000', font: { size: 50 }, callback: v => v.toFixed(1) }
        },
        y: elevAxis('left'),
        y2: elevAxis('right')
      }
    }
  });
}

function headerText(p) {
  let s = 'Distance(m)    Iteration 3   Abs. error=' + p.error + '%  Sea level=' + p.sea + 'm';
  if (p.seawater) s += '  <i>R</i><sub>(Seawater)</sub>=' + p.seawater + 'Ω·m';
  addText(s, p.headX, p.headY, 57);
  addText(p.name, p.nameX, p.nameY, 100, { color: p.nameColor });
  addRotated('Elevation(m)', p.left - 165, p.top + 186, 57);
}

function tideChart() {
  const left = 2800, right = 4271, top = 19, bottom = 664;
  const padLeft = 100, padTop = 10, padRight = 10, padBottom = 70;
  const canvas = addCanvas(left - padLeft, top - padTop, right - left + padLeft + padRight, bottom - top + padTop + padBottom);
  const blue = '#00aeef', red = '#ff0000';
  const datasets = [
    { data: measureHours.map((h, i) => ({ x: h, y: measureLevels[i] })), showLine: false, pointStyle: 'rectRot', pointRadius: 27, borderColor: '#000', pointBorderWidth: 3, pointBorderColor: '#000', pointBackgroundColor: measureFlooded.map(f => f ? blue : red) },
    { data: tideHours.map((h, i) => ({ x: h, y: tideLevels[i] })), showLine: true, fill: false, borderColor: '#1a75bb', borderWidth: 4, borderDash: [4, 3], pointRadius: 0, tension: 0.4 },
    stroke([{ x: 9.26, y: tidalFlatLevel }, { x: 22.56, y: tidalFlatLevel }], '#808080', 4, [8, 5]),
    stroke(tickMarks(tideHourTicks, v => [{ x: v, y: 0 }, { x: v, y: tideHourLabels.includes(v) ? 0.09 : 0.065 }]), '#000', 2),
    stroke(tickMarks(tideLevelLabels, v => [{ x: 9.26, y: v }, { x: 9.53, y: v }]), '#000', 3),
    stroke(tickMarks(tideLevelMinor, v => [{ x: 9.26, y: v }, { x: 9.39, y: v }]), '#000', 3)
  ];
  new Chart(canvas, {
    type: 'scatter',
    data: { datasets: datasets },
    options: {
      responsive: false, animation: false, events: [],
      layout: { padding: { top: padTop, right: padRight } },
      plugins: { legend: { display: false }, tooltip: { enabled: false } },
      scales: {
        x: {
          type: 'linear', position: 'bottom', min: 9.26, max: 22.56,
          afterBuildTicks: s => { s.ticks = tideHourLabels.map(v => ({ value: v })); },
          afterFit: s => { s.height = padBottom; },
          grid: { display: false, drawTicks: false },
          border: { color: '#000', width: 6 },
          ticks: { autoSkip: false, maxRotation: 0, minRotation: 0, padding: 6, color: '#000', font: { size: 56 }, callback: v => v + ':00' }
        },
        x2: {
          type: 'linear', position: 'top', min: 9.26, max: 22.56,
          afterFit: s => { s.height = 0; },
          grid: { display: false, drawTicks: false },
          border: { color: '#000', width: 6 },
          ticks: { display: false }
        },
        y: {
          type: 'linear', position: 'left', min: 0, max: 2.1,
          afterBuildTicks: s => { s.ticks = tideLevelLabels.map(v => ({ value: v })); },
          afterFit: s => { s.width = padLeft; },
          grid: { display: false, drawTicks: false },
          border: { color: '#000', width: 3 },
          ticks: { autoSkip: false, padding: 8, color: '#000', font: { size: 56 }, callback: v => v.toFixed(1) }
        },
        y2: {
          type: 'linear', position: 'right', min: 0, max: 2.1,
          afterFit: s => { s.width = 0; },
          grid: { display: false, drawTicks: false },
          border: { color: '#000', width: 3 },
          ticks: { display: false }
        }
      }
    }
  });

  addRotated('Tide level (m)', 2667, 333, 57);
  addText('Time(Hrs)', 3552, 781, 57, { transform: 'translateX(-50%)' });
  addText('Tidal flat', 2876, 235, 57, { color: '#808080' });
  addText('elevation', 2876, 305, 57, { color: '#808080' });

  const letters = [['a', 2886, 561, '#000'], ['b', 3178, 434, '#000'], ['c', 3325, 214, blue], ['d', 3552, 148, blue], ['e', 3749, 198, blue], ['f', 3923, 280, blue], ['g', 4163, 474, '#000']];
  letters.forEach(l => addText(l[0], l[1], l[2], 70, { color: l[3], fontWeight: 'bold', transform: 'translateX(-50%)' }));

  // right hand legend
  addText('Resistivity', 4475, 62, 58);
  addText('measurement times', 4475, 134, 58);
  addText('(seawater cover the', 4475, 203, 58);
  addText('beach surface)', 4475, 272, 58);
  addText('Resistivity', 4475, 370, 58);
  addText('measurement times', 4475, 441, 58);
  addText('Phreatic brine', 4475, 550, 58);
  addText('Tide level', 4475, 659, 58);
  const svg = '<svg xmlns="http://www.w3.org/2000/svg" width="140" height="560" style="position:absolute;left:4310px;top:120px">'
    + '<polygon points="64,7 91,34 64,61 37,34" fill="' + blue + '" stroke="#000" stroke-width="3"/>'
    + '<polygon points="64,225 91,252 64,279 37,252" fill="' + red + '" stroke="#000" stroke-width="3"/>'
    + '<rect x="25" y="385" width="82" height="58" fill="none" stroke="#000" stroke-width="9" stroke-linecap="round" stroke-dasharray="7 13"/>'
    + '<line x1="23" y1="522" x2="105" y2="522" stroke="#1a75bb" stroke-width="5" stroke-dasharray="4 3"/></svg>';
  page.insertAdjacentHTML('beforeend', svg);
}

function resistivityLegend() {
  addText('Resistivity (Ω·m)', 319, 2516, 57);
  resistivityColors.forEach((c, i) => {
    const d = document.createElement('div');
    d.style.cssText = 'position:absolute;top:2543px;height:29px;width:158px;background:' + c + ';left:' + (298 + i * 176.2) + 'px';
    page.appendChild(d);
  });
  resistivityValues.forEach((v, i) => {
    addText(v, 470 + i * 176.8, 2636, 55, { transform: 'translateX(-50%)' });
  });
}

panels.forEach(p => { sectionChart(p); headerText(p); });
addText('C', 365, 152, 50, { fontWeight: 'bold' });
addText('D', 2256, 152, 50, { fontWeight: 'bold' });
tideChart();
resistivityLegend();
</script>
</body>
</html>
